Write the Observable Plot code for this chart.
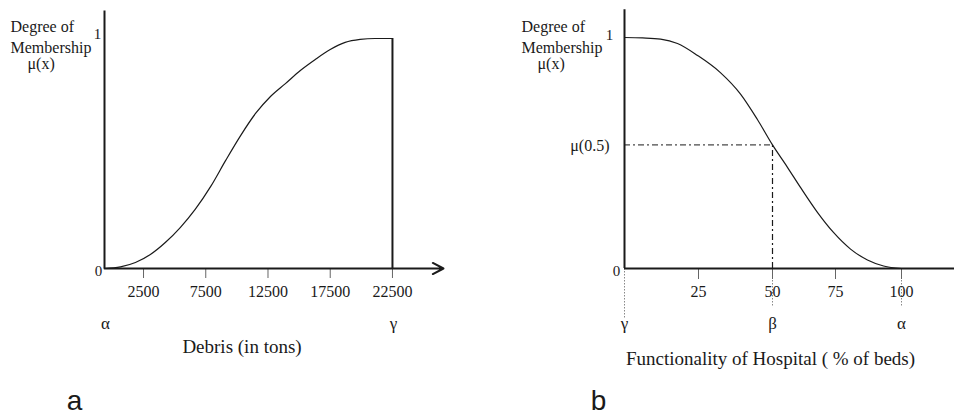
<!DOCTYPE html>
<html>
<head>
<meta charset="utf-8">
<script src="https://cdn.jsdelivr.net/npm/d3@7"></script>
<script src="https://cdn.jsdelivr.net/npm/@observablehq/plot@0.6"></script>
<style>
  html, body { margin: 0; padding: 0; background: #fff; }
  #wrap { display: flex; width: 954px; height: 416px; }
  #wrap svg { display: block; }
</style>
</head>
<body>
<div id="wrap"></div>
<script>
// ---------- Panel a: Debris ----------
const debrisTicks = [2500, 7500, 12500, 17500, 22500];
const debrisAlpha = -635;          // axis origin (α)
const debrisGamma = 22500;         // γ
const debrisAxisEnd = 26600;
const debrisX = [-635, 650, 1850, 3050, 4250, 5450, 6650, 7900, 9100, 10300, 11500, 12700, 13900, 15100, 16300, 17500, 18700, 19900, 21100, 22500];
const debrisY = [0, 0.007, 0.026, 0.061, 0.113, 0.178, 0.257, 0.357, 0.47, 0.578, 0.674, 0.748, 0.804, 0.861, 0.909, 0.952, 0.983, 0.996, 1, 1];
const debrisGreek = [{x: debrisAlpha, label: "α"}, {x: debrisGamma, label: "γ"}];

// ---------- Panel b: Hospital ----------
const hospTicks = [25, 50, 75, 100];
const hospX = [0, 6.1, 12.2, 17.9, 24.7, 32.4, 39.2, 44.9, 50, 56, 61.1, 67.9, 74.2, 80.7, 87.1, 93.2, 100];
const hospY = [1, 0.998, 0.993, 0.974, 0.922, 0.848, 0.755, 0.645, 0.535, 0.437, 0.351, 0.242, 0.156, 0.084, 0.037, 0.011, 0];
const mu05 = 0.535;
const beta = 50;
const hospGreek = [{x: 0, label: "γ"}, {x: 50, label: "β"}, {x: 100, label: "α"}];
const hospGuides = [{x: 0, bottom: -0.216}, {x: 50, bottom: -0.169}, {x: 100, bottom: -0.169}];

const yAxisTop = 1.12;
const serif = "Liberation Serif, Times New Roman, serif";
const ink = "#1a1a1a";

const debrisData = debrisX.map((x, i) => ({x, y: debrisY[i]}));
const hospData = hospX.map((x, i) => ({x, y: hospY[i]}));

function label(text, px, py, ml, mt, opts = {}) {
  return Plot.text([text], {
    frameAnchor: "top-left", dx: px - ml, dy: py - mt,
    lineAnchor: "bottom", textAnchor: "start",
    fontFamily: serif, fontSize: 16, fill: ink, ...opts
  });
}

// Panel a
const mlA = 104, mtA = 38;
const plotA = Plot.plot({
  width: 477, height: 416,
  marginLeft: mlA, marginRight: 34, marginTop: mtA, marginBottom: 148,
  style: {fontFamily: serif, background: "#fff", overflow: "visible", color: ink},
  x: {type: "linear", domain: [debrisAlpha, debrisAxisEnd], axis: null, label: null},
  y: {domain: [0, 1], axis: null, label: null},
  marks: [
    Plot.axisX(debrisTicks, {tickSize: 10, tickPadding: 7, fontSize: 16, stroke: "#666", fill: ink, label: null, fontFamily: serif, tickFormat: d => String(d)}),
    Plot.ruleX([debrisAlpha], {y1: 0, y2: yAxisTop, strokeWidth: 2, stroke: ink}),
    Plot.arrow([0], {x1: debrisAlpha, x2: debrisAxisEnd, y1: 0, y2: 0, strokeWidth: 2, stroke: ink, headLength: 9, headAngle: 55}),
    Plot.ruleX([debrisGamma], {y1: 0, y2: 1, strokeWidth: 2, stroke: ink}),
    Plot.line(debrisData, {x: "x", y: "y", curve: "monotone-x", strokeWidth: 1.2, stroke: ink}),
    Plot.text([1], {x: debrisAlpha, y: d => d, text: d => String(d), dx: -7, dy: 0, lineAnchor: "bottom", fontSize: 15, fill: ink}),
    Plot.text([0], {x: debrisAlpha, y: d => d, text: d => String(d), dx: -6, dy: 7, lineAnchor: "bottom", fontSize: 15, fill: ink}),
    Plot.text(debrisGreek, {x: "x", text: "label", frameAnchor: "bottom", dy: 60, dx: 1, lineAnchor: "bottom", fontSize: 17, fill: ink}),
    Plot.text(["Debris (in tons)"], {frameAnchor: "bottom", dx: -32, dy: 84, lineAnchor: "bottom", fontSize: 19, fill: ink}),
    label("Degree of", 10, 31, mlA, mtA),
    label("Membership", 10, 52, mlA, mtA),
    label("μ(x)", 27, 68, mlA, mtA),
    label("a", 74, 409, mlA, mtA, {textAnchor: "middle", fontFamily: "Liberation Sans, Arial, sans-serif", fontSize: 28})
  ]
});

// Panel b
const mlB = 147, mtB = 37;
const plotB = Plot.plot({
  width: 477, height: 416,
  marginLeft: mlB, marginRight: 0, marginTop: mtB, marginBottom: 148,
  style: {fontFamily: serif, background: "#fff", overflow: "hidden", color: ink},
  x: {type: "linear", domain: [0, 25, 50, 75, 100, 120], range: [147, 221, 295, 358, 424, 477], axis: null, label: null},
  y: {domain: [0, 1], axis: null, label: null},
  marks: [
    Plot.ruleX(hospGuides, {x: "x", y1: 0, y2: "bottom", stroke: "#888", strokeWidth: 1, strokeDasharray: "1.5,1.5"}),
    Plot.axisX(hospTicks, {tickSize: 11, tickPadding: 6, fontSize: 16, stroke: "#666", fill: ink, label: null, fontFamily: serif, tickFormat: d => String(d)}),
    Plot.ruleY([mu05], {x1: 0, x2: beta, stroke: ink, strokeWidth: 1, strokeDasharray: "6,3,2,3"}),
    Plot.ruleX([beta], {y1: 0, y2: mu05, stroke: ink, strokeWidth: 1.2, strokeDasharray: "6,3,2,3"}),
    Plot.ruleX([0], {y1: 0, y2: yAxisTop, strokeWidth: 2, stroke: ink}),
    Plot.ruleY([0], {x1: 0, x2: 120, strokeWidth: 2, stroke: ink}),
    Plot.line(hospData, {x: "x", y: "y", curve: "monotone-x", strokeWidth: 1.2, stroke: ink}),
    Plot.text([1], {x: 0, y: d => d, text: d => String(d), dx: -15, dy: 2, lineAnchor: "bottom", fontSize: 15, fill: ink}),
    Plot.text([0], {x: 0, y: d => d, text: d => String(d), dx: -8, dy: 7, lineAnchor: "bottom", fontSize: 15, fill: ink}),
    Plot.text([mu05], {x: 0, y: d => d, text: () => "μ(0.5)", dx: -15, dy: 6, textAnchor: "end", lineAnchor: "bottom", fontSize: 16, fill: ink}),
    Plot.text(hospGreek, {x: "x", text: "label", frameAnchor: "bottom", dy: 60, lineAnchor: "bottom", fontSize: 17, fill: ink}),
    Plot.text(["Functionality of Hospital ( % of beds)"], {frameAnchor: "bottom", dx: -19, dy: 96, lineAnchor: "bottom", fontSize: 19, fill: ink}),
    label("Degree of", 521 - 477, 31, mlB, mtB),
    label("Membership", 521 - 477, 52, mlB, mtB),
    label("μ(x)", 537 - 477, 68, mlB, mtB),
    label("b", 598 - 477, 409, mlB, mtB, {textAnchor: "middle", fontFamily: "Liberation Sans, Arial, sans-serif", fontSize: 28})
  ]
});

document.getElementById("wrap").append(plotA, plotB);
</script>
</body>
</html>
